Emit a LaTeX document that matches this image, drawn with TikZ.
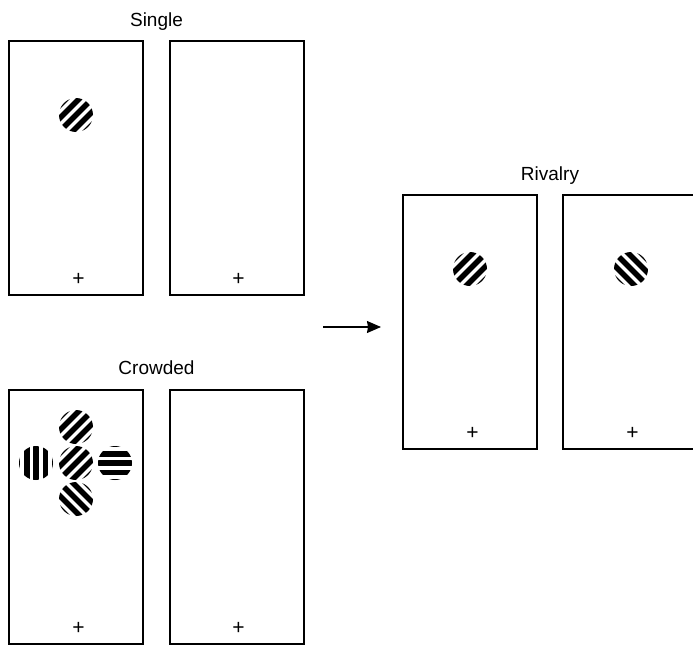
\documentclass[tikz,border=0pt]{standalone}
\usepackage{fontspec}
\setmainfont{Liberation Sans}
\usetikzlibrary{arrows.meta}
\tikzset{
 screen/.style={draw, line width=1.4pt, minimum width=134pt, minimum height=254pt, inner sep=0pt},
 lbl/.style={font=\fontsize{19}{21}\selectfont, anchor=base, inner sep=0pt},
 fix/.style={font=\fontsize{21}{23}\selectfont, inner sep=0pt},
 pics/grating/.style={code={
   \begin{scope}
   \clip (0,0) circle (17);
   \begin{scope}[rotate=#1]
   \foreach \i in {-3,...,3}{\fill (\i*9.2-2.7,-20) rectangle (\i*9.2+2.7,20);}
   \end{scope}
   \end{scope}}}
}
\begin{document}
\begin{tikzpicture}[x=1pt,y=-1pt]
\useasboundingbox (0,0) rectangle (693,645);
\clip (0,0) rectangle (693,645);
% screens
\node[screen] (s1) at (76,168) {};
\node[screen] (s2) at (237,168) {};
\node[screen] (c1) at (76,517) {};
\node[screen] (c2) at (237,517) {};
\node[screen] (r1) at (470,322) {};
\node[screen] (r2) at (630,322) {};
% labels
\node[lbl] (tS) at (156.5,26) {Single};
\node[lbl] (tC) at (156.5,374) {Crowded};
\node[lbl] (tR) at (550,180) {Rivalry};
% fixation crosses
\node[fix] (f1) at (78.5,279.5) {+};
\node[fix] (f2) at (238.5,279.5) {+};
\node[fix] (f3) at (78.5,628.5) {+};
\node[fix] (f4) at (238.5,628.5) {+};
\node[fix] (f5) at (472.5,433.5) {+};
\node[fix] (f6) at (632.5,433.5) {+};
% gratings
\pic at (76,115) {grating=-45};
\pic at (76,427) {grating=-45};
\pic at (76,463) {grating=-45};
\pic at (76,499) {grating=45};
\pic at (36,463) {grating=0};
\pic at (115,463) {grating=90};
\pic at (470,269) {grating=-45};
\pic at (631,269) {grating=45};
% arrow
\coordinate (a0) at (323,327);
\coordinate (a1) at (381,327);
\draw[-{Stealth[length=14pt,width=12pt,inset=1pt]}, line width=1.2pt] (a0) -- (a1);
\end{tikzpicture}
\end{document}
